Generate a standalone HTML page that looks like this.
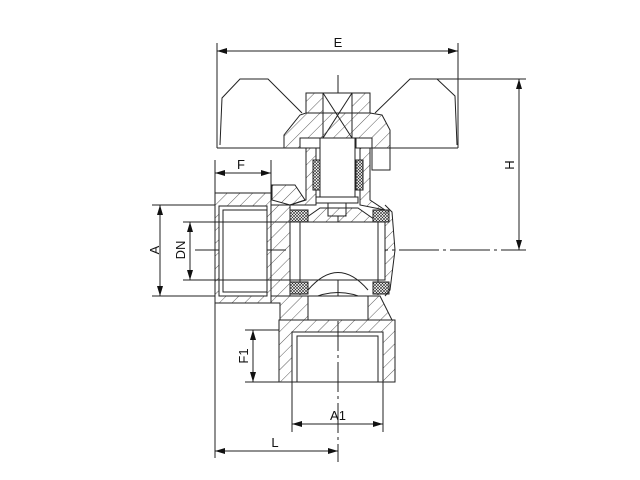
<!DOCTYPE html>
<html><head><meta charset="utf-8"><style>
html,body{margin:0;padding:0;background:#fff;}
svg{display:block;}
text{font-family:"Liberation Sans",sans-serif;font-size:13px;fill:#111;}
</style></head><body>
<svg width="640" height="480" viewBox="0 0 640 480" xmlns="http://www.w3.org/2000/svg">
<defs>
<marker id="ar" viewBox="0 0 10 6" refX="10" refY="3" markerWidth="10" markerHeight="6" orient="auto-start-reverse" markerUnits="userSpaceOnUse"><path d="M0,0L10,3L0,6z" fill="#111"/></marker>
<pattern id="hatch" width="9" height="9" patternUnits="userSpaceOnUse" patternTransform="rotate(45)"><line x1="0" y1="0" x2="0" y2="9" stroke="#333" stroke-width="0.8"/></pattern>
<pattern id="cross" width="3" height="3" patternUnits="userSpaceOnUse"><rect width="3" height="3" fill="#fff"/><path d="M0,0L3,3M3,0L0,3" stroke="#222" stroke-width="0.6"/></pattern>
</defs>
<g fill="none" stroke="#222" stroke-width="1">
<!-- E dimension -->
<line x1="217" y1="43" x2="217" y2="148"/>
<line x1="458" y1="43" x2="458" y2="148"/>
<line x1="217" y1="51" x2="458" y2="51" marker-start="url(#ar)" marker-end="url(#ar)"/>
<!-- handle -->
<path d="M217,148 L458,148"/>
<path d="M220,145 L222,98 L240,79 L268,79 L302,113"/>
<path d="M375,113 L410,79 L437,79 L455,96 L457,145"/>
<!-- H dimension -->
<line x1="437" y1="79" x2="526" y2="79"/>
<line x1="519" y1="79" x2="519" y2="250" marker-start="url(#ar)" marker-end="url(#ar)"/>
<!-- center lines -->
<line x1="338" y1="75" x2="338" y2="462" stroke-dasharray="30,4,3,4"/>
<line x1="195" y1="250" x2="526" y2="250" stroke-dasharray="40,4,3,4"/>
<!-- nut -->
<path d="M306,93 H370 V113 H306 Z" fill="url(#hatch)"/>
<rect x="323" y="93" width="29" height="45" fill="#fff"/>
<path d="M323,93 L352,138 M352,93 L323,138"/>
<!-- cap -->
<path d="M284,148 L284,135 L300,115 L306,113 L370,113 L382,115 L390,130 L390,148 L372,148 L372,138 L356,138 L356,148 L320,148 L320,138 L300,138 L300,148 Z" fill="url(#hatch)"/>
<rect x="372" y="148" width="18" height="22" fill="#fff"/>
<!-- bonnet -->
<path d="M306,148 L306,200 L290,205 L316,205 L316,148 Z" fill="url(#hatch)"/>
<path d="M370,148 L370,200 L385,210 L360,205 L360,148 Z" fill="url(#hatch)"/>
<rect x="313" y="160" width="7" height="30" fill="url(#cross)"/>
<rect x="356" y="160" width="7" height="30" fill="url(#cross)"/>
<!-- stem -->
<rect x="320" y="138" width="35" height="59" fill="#fff"/>
<rect x="316" y="197" width="42" height="6" fill="#fff"/>
<rect x="328" y="203" width="18" height="13" fill="#fff"/>
<!-- body top wedge -->
<path d="M272,185 L295,185 L305,200 L290,205 L272,200 Z" fill="url(#hatch)"/>
<path d="M300,222 L320,208 L358,208 L378,222 Z" fill="url(#hatch)"/>
<!-- left pipe -->
<rect x="215" y="193" width="56" height="110" fill="url(#hatch)"/>
<rect x="219" y="206" width="48" height="90" fill="#fff"/>
<rect x="223" y="210" width="44" height="82"/>
<!-- F dimension -->
<line x1="215" y1="160" x2="215" y2="193"/>
<line x1="271" y1="160" x2="271" y2="193"/>
<line x1="215" y1="173" x2="271" y2="173" marker-start="url(#ar)" marker-end="url(#ar)"/>
<!-- A / DN dims -->
<line x1="152" y1="205" x2="215" y2="205"/>
<line x1="152" y1="296" x2="215" y2="296"/>
<line x1="160" y1="205" x2="160" y2="296" marker-start="url(#ar)" marker-end="url(#ar)"/>
<line x1="183" y1="222" x2="290" y2="222"/>
<line x1="183" y1="280" x2="290" y2="280"/>
<line x1="190" y1="222" x2="190" y2="280" marker-start="url(#ar)" marker-end="url(#ar)"/>
<!-- ball region -->
<path d="M271,205 L290,205 L290,296 L271,296 Z" fill="url(#hatch)"/>
<rect x="290" y="222" width="95" height="58" fill="#fff"/>
<line x1="300" y1="210" x2="300" y2="295"/>
<line x1="378" y1="210" x2="378" y2="295"/>
<rect x="290" y="210" width="18" height="12" fill="url(#cross)"/>
<rect x="373" y="210" width="16" height="12" fill="url(#cross)"/>
<rect x="290" y="282" width="18" height="12" fill="url(#cross)"/>
<rect x="373" y="282" width="16" height="12" fill="url(#cross)"/>
<path d="M385,205 L392,212 L395,250 L390,290 L385,296" fill="url(#hatch)"/>
<path d="M308,290 Q338,255 368,290"/>
<path d="M308,300 Q338,285 368,300"/>
<!-- lower body -->
<path d="M271,296 L308,296 L308,320 L280,320 L280,303 L271,303 Z" fill="url(#hatch)"/>
<path d="M368,296 L380,296 L392,320 L368,320 Z" fill="url(#hatch)"/>
<path d="M308,296 L368,296 L368,320 L308,320 Z" fill="#fff"/>
<!-- bottom port -->
<path d="M279,320 L395,320 L395,382 L383,382 L383,332 L292,332 L292,382 L279,382 Z" fill="url(#hatch)"/>
<rect x="292" y="332" width="91" height="50"/>
<rect x="297" y="336" width="81" height="46"/>
<!-- F1 -->
<line x1="245" y1="330" x2="279" y2="330"/>
<line x1="245" y1="382" x2="279" y2="382"/>
<line x1="253" y1="330" x2="253" y2="382" marker-start="url(#ar)" marker-end="url(#ar)"/>
<!-- A1 -->
<line x1="292" y1="382" x2="292" y2="432"/>
<line x1="383" y1="382" x2="383" y2="432"/>
<line x1="292" y1="424" x2="383" y2="424" marker-start="url(#ar)" marker-end="url(#ar)"/>
<!-- L -->
<line x1="215" y1="303" x2="215" y2="458"/>
<line x1="215" y1="451" x2="338" y2="451" marker-start="url(#ar)" marker-end="url(#ar)"/>
</g>
<text x="338" y="47" text-anchor="middle">E</text>
<text x="241" y="169" text-anchor="middle">F</text>
<text x="338" y="420" text-anchor="middle">A1</text>
<text x="275" y="447" text-anchor="middle">L</text>
<text transform="translate(514,165) rotate(-90)" text-anchor="middle">H</text>
<text transform="translate(159,250) rotate(-90)" text-anchor="middle">A</text>
<text transform="translate(185,250) rotate(-90)" text-anchor="middle">DN</text>
<text transform="translate(248,356) rotate(-90)" text-anchor="middle">F1</text>
</svg>
</body></html>
